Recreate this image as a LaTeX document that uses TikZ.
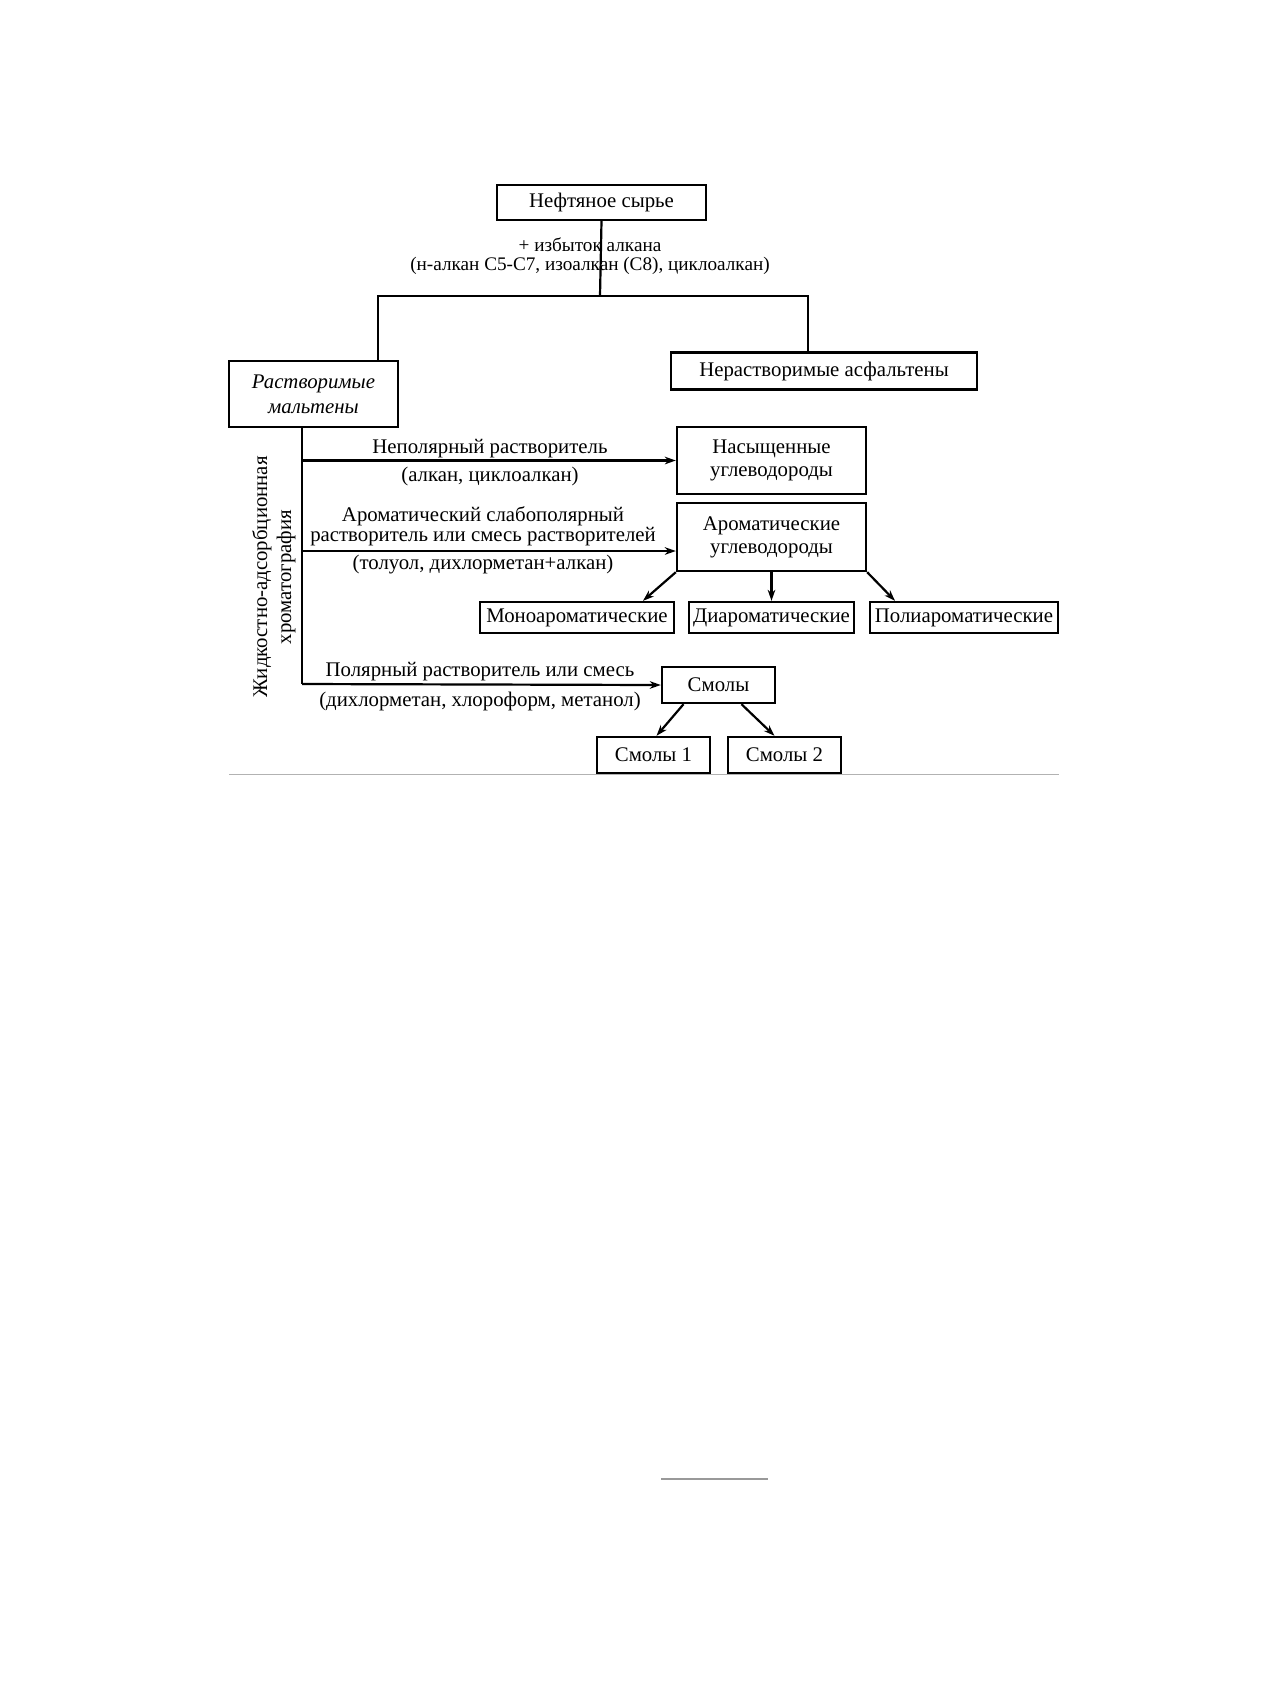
\documentclass[tikz,border=0pt]{standalone}
\usepackage{fontspec}
\setmainfont{Liberation Serif}
\usepackage{tikz}
\usetikzlibrary{arrows.meta, positioning, shapes, backgrounds}
\tikzset{mybox/.style = {draw, line width=1.2pt, inner sep=0pt, align=center,
		font=\fontsize{10.4}{11.5}\selectfont},
	mylabel/.style = {inner sep=0pt, align=center, font=\fontsize{10.4}{10}\selectfont},
	mylink/.style = {line width=1.1pt, -{Stealth[length=5.5pt,width=3.8pt]}},
	myline/.style = {line width=1.1pt}}

\begin{document}
\begin{tikzpicture}[x=0.5pt,y=-0.5pt]
\useasboundingbox (0,0) rectangle (1270,1683);
% boxes
\node[mybox, minimum width=104.5pt, minimum height=17.5pt] (feed) at (601.5,202.5) {Нефтяное сырье};
\node[mybox, minimum width=84.5pt, minimum height=33pt, font=\fontsize{10.4}{12.5}\selectfont\itshape] (malt) at (313.5,394) {Растворимые\\мальтены};
\node[mybox, minimum width=153pt, minimum height=18.5pt] (asph) at (824,371) {Нерастворимые асфальтены};
\node[mybox, minimum width=94.5pt, minimum height=33.5pt] (sat) at (771.5,460.5) {Насыщенные\\углеводороды};
\node[mybox, minimum width=94.5pt, minimum height=34pt] (arom) at (771.5,537) {Ароматические\\углеводороды};
\node[mybox, minimum width=97pt, minimum height=15.5pt] (mono) at (577,617.5) {Моноароматические};
\node[mybox, minimum width=82.5pt, minimum height=15.5pt] (di) at (771.5,617.5) {Диароматические};
\node[mybox, minimum width=94pt, minimum height=15.5pt] (poly) at (964,617.5) {Полиароматические};
\node[mybox, minimum width=56.5pt, minimum height=18pt] (res) at (718.5,685) {Смолы};
\node[mybox, minimum width=56.5pt, minimum height=18pt] (resA) at (653.5,755) {Смолы 1};
\node[mybox, minimum width=56.5pt, minimum height=18pt] (resB) at (784.5,755) {Смолы 2};

% labels
\node[mylabel, font=\fontsize{9.6}{9.8}\selectfont] (addlbl) at (590,256) {+ избыток алкана\\(н-алкан C5-C7, изоалкан (C8), циклоалкан)};
\node[mylabel, anchor=base] (npol) at (490,453) {Неполярный растворитель};
\node[mylabel, anchor=base] (npolb) at (490,481) {(алкан, циклоалкан)};
\node[mylabel, anchor=base] (aroma) at (483,521) {Ароматический слабополярный};
\node[mylabel, anchor=base] (aromb) at (483,541) {растворитель или смесь растворителей};
\node[mylabel, anchor=base] (aromc) at (483,569) {(толуол, дихлорметан+алкан)};
\node[mylabel, anchor=base] (pola) at (480,676) {Полярный растворитель или смесь};
\node[mylabel, anchor=base] (polb) at (480,706) {(дихлорметан, хлороформ, метанол)};
\node[mylabel, rotate=90, font=\fontsize{10.4}{12}\selectfont] (lac) at (274,577) {Жидкостно-адсорбционная\\хроматография};

% split
\coordinate (split) at (600,296);
\coordinate (mleft) at (378,296);
\coordinate (aright) at (808,296);
\draw[myline] (feed.south) -- (split);
\draw[myline] (mleft |- malt.north) -- (mleft) -- (aright) -- (aright |- asph.north);

% chromatography
\coordinate (trunk) at (302,684);
\coordinate (aromin) at ([yshift=-7pt]arom.west);
\draw[myline] (trunk |- malt.south) -- (trunk);
\draw[mylink] (trunk |- sat.west) -- (sat.west);
\draw[mylink] (trunk |- aromin) -- (aromin);
\draw[mylink] (trunk) -- (res.west);

% fractions
\draw[mylink] (arom.south west) -- ([xshift=33pt]mono.north);
\draw[mylink] (arom.south) -- (di.north);
\draw[mylink] (arom.south east) -- ([xshift=-34.5pt]poly.north);
\draw[mylink] ([xshift=-17.5pt]res.south) -- ([xshift=1.5pt]resA.north);
\draw[mylink] ([xshift=11.5pt]res.south) -- ([xshift=-5pt]resB.north);

% page rules
\draw[gray!60, line width=0.5pt] (229,774) -- (1059,774);
\draw[gray!80, line width=0.8pt] (661,1479) -- (768,1479);
\end{tikzpicture}
\end{document}
